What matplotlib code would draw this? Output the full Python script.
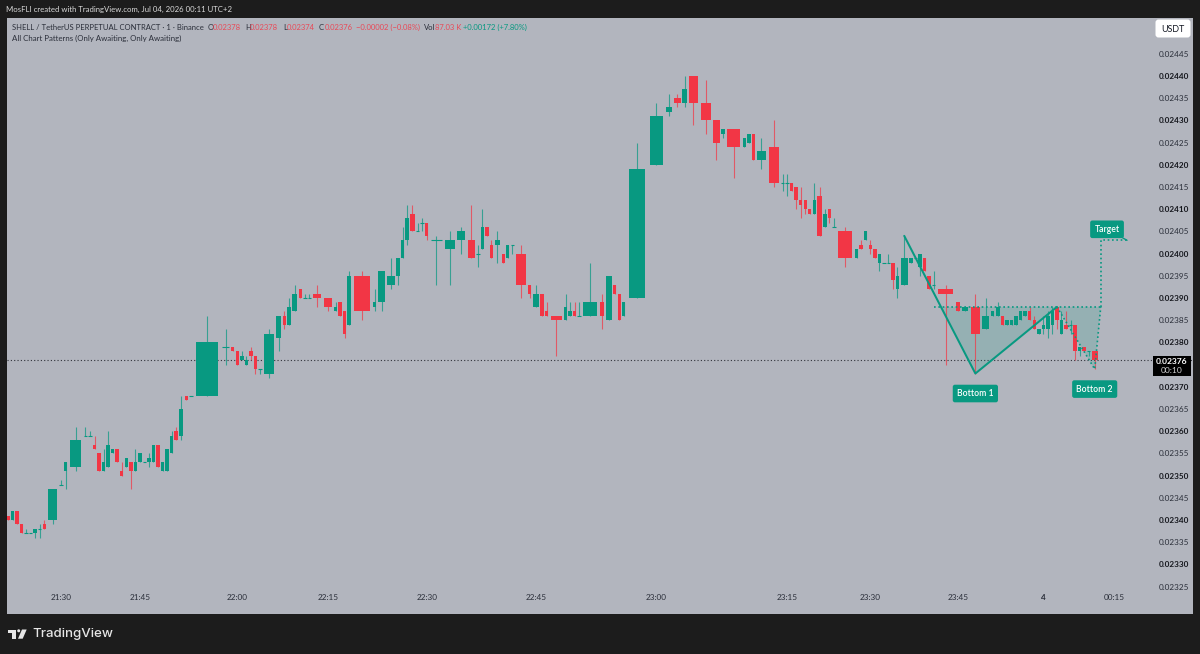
#!/usr/bin/env python3
"""
SHELL/USDT 1 minute volume candles with a double bottom pattern.
Prices are kept in units of 0.00001.
"""

import numpy as np
import matplotlib
matplotlib.use("Agg")
import matplotlib.pyplot as plt
from matplotlib.patches import Circle, FancyBboxPatch, Polygon, Rectangle

UP = "#089981"
DOWN = "#F23645"
PANEL = "#B2B5BE"
FRAME = "#1C1C1C"
INK = "#2A2E39"

opens = [
    2341, 2340, 2342, 2339, 2337, 2337, 2337, 2338, 2339, 2340,
    2348, 2351, 2352, 2359, 2359, 2357, 2355, 2351, 2352, 2355,
    2356, 2351, 2352, 2353, 2351, 2353, 2353, 2353, 2353, 2357,
    2351, 2351, 2355, 2360, 2359, 2368, 2368, 2368, 2379, 2379,
    2378, 2376, 2375, 2378, 2377, 2374, 2373, 2381, 2386, 2384,
    2387, 2392, 2390, 2390, 2391, 2390, 2387, 2389, 2387, 2384,
    2395, 2388, 2389, 2393, 2395, 2399, 2403, 2409, 2405, 2407,
    2407, 2403, 2401, 2403, 2403, 2400, 2401, 2406, 2402, 2402,
    2400, 2399, 2402, 2400, 2393, 2388, 2391, 2387, 2386, 2385,
    2386, 2387, 2386, 2386, 2389, 2385, 2393, 2391, 2386, 2390,
    2420, 2432, 2435, 2434, 2440, 2434, 2430, 2427, 2428, 2424,
    2425, 2427, 2421, 2424, 2416, 2416, 2416, 2415, 2412, 2412,
    2410, 2409, 2413, 2406, 2410, 2406, 2405, 2399, 2402, 2403,
    2402, 2401, 2398, 2398, 2398, 2398, 2392, 2393, 2398, 2399,
    2397, 2399, 2395, 2393, 2392, 2389, 2387, 2388, 2383, 2386,
    2386, 2386, 2384, 2384, 2384, 2385, 2386, 2387, 2385, 2382,
    2383, 2383, 2384, 2388, 2382, 2384, 2384, 2384, 2378, 2379,
    2378, 2378,
]
highs = [
    2341, 2342, 2342, 2339, 2338, 2337, 2338, 2339, 2340, 2347,
    2349, 2353, 2361, 2361, 2360, 2359, 2355, 2356, 2360, 2356,
    2356, 2353, 2354, 2353, 2356, 2355, 2353, 2355, 2357, 2357,
    2353, 2356, 2360, 2361, 2368, 2368, 2368, 2386, 2383, 2379,
    2378, 2378, 2377, 2379, 2377, 2374, 2383, 2386, 2387, 2390,
    2393, 2392, 2391, 2391, 2393, 2390, 2389, 2389, 2387, 2396,
    2396, 2392, 2396, 2399, 2399, 2406, 2411, 2411, 2407, 2408,
    2407, 2404, 2405, 2406, 2411, 2402, 2410, 2406, 2403, 2405,
    2400, 2402, 2402, 2402, 2393, 2393, 2391, 2389, 2386, 2391,
    2389, 2389, 2389, 2398, 2391, 2395, 2393, 2391, 2389, 2425,
    2434, 2436, 2436, 2440, 2440, 2439, 2430, 2428, 2428, 2426,
    2427, 2427, 2426, 2430, 2418, 2418, 2416, 2415, 2415, 2412,
    2410, 2416, 2415, 2410, 2410, 2408, 2406, 2401, 2403, 2405,
    2403, 2401, 2400, 2398, 2400, 2398, 2397, 2404, 2399, 2399,
    2400, 2399, 2395, 2396, 2393, 2389, 2388, 2391, 2390, 2387,
    2389, 2386, 2385, 2385, 2386, 2387, 2387, 2388, 2386, 2383,
    2386, 2387, 2388, 2388, 2387, 2387, 2385, 2384, 2379, 2379,
    2378, 2378,
]
lows = [
    2340, 2340, 2339, 2337, 2337, 2337, 2336, 2336, 2338, 2339,
    2348, 2347, 2351, 2359, 2359, 2356, 2351, 2351, 2352, 2355,
    2353, 2350, 2352, 2347, 2351, 2353, 2353, 2352, 2353, 2352,
    2351, 2351, 2355, 2358, 2358, 2367, 2368, 2368, 2375, 2378,
    2375, 2376, 2375, 2376, 2373, 2373, 2372, 2378, 2383, 2384,
    2387, 2390, 2390, 2390, 2388, 2387, 2387, 2386, 2381, 2384,
    2385, 2387, 2387, 2392, 2393, 2399, 2402, 2405, 2405, 2405,
    2403, 2393, 2393, 2400, 2399, 2397, 2401, 2404, 2399, 2398,
    2398, 2399, 2400, 2390, 2390, 2388, 2386, 2386, 2377, 2385,
    2386, 2386, 2386, 2386, 2383, 2385, 2391, 2385, 2386, 2390,
    2420, 2431, 2433, 2433, 2429, 2427, 2421, 2426, 2417, 2424,
    2425, 2421, 2419, 2415, 2414, 2413, 2414, 2410, 2408, 2409,
    2409, 2409, 2404, 2406, 2407, 2406, 2397, 2399, 2401, 2403,
    2400, 2399, 2396, 2398, 2398, 2392, 2390, 2393, 2398, 2399,
    2395, 2396, 2392, 2392, 2375, 2387, 2387, 2373, 2383, 2386,
    2386, 2384, 2384, 2384, 2384, 2385, 2386, 2385, 2383, 2382,
    2382, 2381, 2382, 2383, 2382, 2383, 2382, 2376, 2377, 2378,
    2377, 2374,
]
closes = [
    2340, 2342, 2339, 2337, 2337, 2337, 2338, 2338, 2338, 2347,
    2348, 2353, 2358, 2359, 2359, 2356, 2351, 2353, 2357, 2356,
    2353, 2350, 2354, 2351, 2353, 2355, 2353, 2354, 2357, 2352,
    2353, 2356, 2359, 2358, 2365, 2367, 2368, 2380, 2379, 2378,
    2375, 2377, 2376, 2377, 2374, 2374, 2382, 2386, 2384, 2388,
    2391, 2390, 2390, 2390, 2390, 2388, 2388, 2386, 2382, 2395,
    2387, 2389, 2396, 2395, 2399, 2403, 2408, 2405, 2405, 2407,
    2404, 2403, 2403, 2405, 2399, 2400, 2406, 2404, 2399, 2403,
    2398, 2402, 2402, 2393, 2391, 2391, 2386, 2386, 2385, 2388,
    2387, 2386, 2386, 2389, 2386, 2395, 2391, 2385, 2389, 2419,
    2431, 2433, 2434, 2437, 2434, 2430, 2425, 2428, 2424, 2426,
    2427, 2421, 2423, 2416, 2416, 2416, 2414, 2412, 2411, 2410,
    2409, 2412, 2404, 2409, 2408, 2406, 2399, 2401, 2401, 2405,
    2401, 2399, 2400, 2398, 2398, 2394, 2395, 2399, 2399, 2399,
    2400, 2396, 2392, 2393, 2391, 2387, 2388, 2382, 2386, 2387,
    2388, 2384, 2385, 2385, 2386, 2387, 2387, 2385, 2383, 2383,
    2384, 2386, 2387, 2385, 2385, 2383, 2384, 2378, 2379, 2378,
    2378, 2376,
]
volumes = [
    1, 1, 1, 1, 1, 1, 1, 1, 1, 2.7,
    1, 1, 3.4, 1, 1, 1, 1, 1, 1, 1,
    1, 1, 1, 1, 1, 1, 1, 1, 1, 1,
    1, 1, 1, 1, 1.25, 1, 1, 6.15, 2.1, 1,
    1, 1, 1, 1, 1, 1, 2.85, 1.55, 1, 1,
    1.5, 1, 1, 1, 2.4, 2.4, 1, 1, 1, 1,
    4.6, 1, 2.1, 2.1, 1, 1, 1, 1.3, 1, 1,
    1, 3.3, 2.7, 2.3, 2, 1, 1, 1, 1, 1.6,
    1, 1, 1, 2.85, 1, 1.7, 1, 1, 3.2, 1,
    1, 1, 1, 3.85, 1.35, 1.65, 1, 1, 1, 4.8,
    3.8, 1.8, 1.85, 1.4, 2.45, 2.9, 1.9, 1, 3.7, 1,
    1, 1, 2.55, 2.9, 1, 1, 1, 1, 1, 1,
    1, 1, 1.35, 1, 1, 1, 4, 1, 1, 1,
    1, 1, 1, 1, 1, 1, 1, 2, 1, 1,
    1, 1, 1, 1, 4.4, 1, 2, 2.6, 2, 1,
    1.2, 1, 1, 1, 1, 1, 1, 1, 1, 1,
    1, 1, 1, 1, 1, 1, 1, 1, 1, 1,
    1, 1.67,
]

time_labels = ["21:30", "21:45", "22:00", "22:15", "22:30", "22:45",
               "23:00", "23:15", "23:30", "23:45", "4", "00:15"]
time_candles = [10, 25, 40, 55, 70, 85, 100, 115, 130, 145, 160, 175]

price_ticks = [2325, 2330, 2335, 2340, 2345, 2350, 2355, 2360, 2365, 2370,
               2380, 2385, 2390, 2395, 2400, 2405, 2410, 2415, 2420, 2425,
               2430, 2435, 2440, 2445]
last_price = 2376

# pattern pivots, given as candle number and price
leg_candles = [137, 147, 163]
leg_prices = [2404, 2373, 2388]
second_candles = [163, 171, 172]
second_prices = [2388, 2374, 2388]
neck_candles = [143, 172]
neck_price = 2388
target_candles = [172, 172, 177.8]
target_prices = [2388, 2403, 2403]

opens = np.array(opens, dtype=float)
highs = np.array(highs, dtype=float)
lows = np.array(lows, dtype=float)
closes = np.array(closes, dtype=float)
volumes = np.array(volumes)

# candle width follows volume, so x comes from the running total
edges = np.concatenate([[0], np.cumsum(volumes)])
centers = edges[:-1] + volumes / 2
extra = centers[-1] + volumes[-1] / 2 + 0.5 + np.arange(10)
slots = np.concatenate([centers, extra])


def candle_x(n):
    return np.interp(n, np.arange(len(slots)), slots)


def price(v):
    return np.asarray(v, dtype=float) * 1e-5


plt.rcParams["font.family"] = ["Lato", "DejaVu Sans"]
fig = plt.figure(figsize=(12, 6.54), dpi=100, facecolor=FRAME)

L, R, T, B = 7, 1193, 18, 614
ax = fig.add_axes([L / 1200, 1 - B / 654, (R - L) / 1200, (B - T) / 654], facecolor=PANEL)

# horizontal scale: first candle at pixel 8, last at pixel 1095
px_per_x = (1094.7 - 8) / (centers[-1] - centers[0])
ax.set_xlim(centers[0] - (8 - L) / px_per_x, centers[0] + (R - 8) / px_per_x)
ax.set_ylim(price(2440 - (B - 76) * 0.2252), price(2440 + (76 - T) * 0.2252))

up = closes >= opens
colors = np.where(up, UP, DOWN)
flat = opens == closes

ax.vlines(centers, price(lows), price(highs), colors=colors, lw=0.8, alpha=0.72, zorder=2)
ax.bar(centers[~flat], price(np.abs(closes - opens))[~flat], width=volumes[~flat] * 0.76,
       bottom=price(np.minimum(opens, closes))[~flat], color=colors[~flat], lw=0, zorder=3)
ax.hlines(price(opens[flat]), centers[flat] - volumes[flat] * 0.38, centers[flat] + volumes[flat] * 0.38,
          colors=colors[flat], lw=0.8, zorder=3)

# last price line
ax.axhline(price(last_price), color="#30323a", lw=0.8, ls=(0, (1, 2)), zorder=1)

# double bottom pattern
leg_x = candle_x(np.array(leg_candles))
second_x = candle_x(np.array(second_candles))
neck_x = candle_x(np.array(neck_candles))
target_x = candle_x(np.array(target_candles))
first_cross = np.interp(neck_price, [leg_prices[1], leg_prices[0]], [leg_x[1], leg_x[0]])

ax.add_patch(Polygon(np.column_stack([[first_cross, leg_x[1], leg_x[2]],
                                      price([neck_price, leg_prices[1], leg_prices[2]])]),
                     closed=True, facecolor=UP, alpha=0.17, lw=0, zorder=1.5))
ax.add_patch(Polygon(np.column_stack([second_x, price(second_prices)]),
                     closed=True, facecolor=UP, alpha=0.17, lw=0, zorder=1.5))
ax.plot(leg_x, price(leg_prices), color=UP, lw=1.45, zorder=5, solid_capstyle="round")
ax.plot(neck_x, price([neck_price, neck_price]), color=UP, lw=1.2, ls=(0, (1, 1.6)), zorder=5)
ax.plot(second_x, price(second_prices), color=UP, lw=1.2, ls=(0, (1, 1.6)), zorder=5)
ax.plot(target_x, price(target_prices), color=UP, lw=1.2, ls=(0, (1, 1.6)), zorder=5)

box = dict(boxstyle="round,pad=0.5,rounding_size=0.25", fc=UP, ec="none")
ax.annotate("Bottom 1", (leg_x[1], price(leg_prices[1])), xytext=(0, -20), textcoords="offset pixels",
            ha="center", va="center", color="white", fontsize=6.2, fontweight="semibold", bbox=box, zorder=6)
ax.annotate("Bottom 2", (second_x[1], price(second_prices[1])), xytext=(0, -20), textcoords="offset pixels",
            ha="center", va="center", color="white", fontsize=6.2, fontweight="semibold", bbox=box, zorder=6)
ax.annotate("Target", (target_x[2], price(target_prices[2])), xytext=(-20, 11), textcoords="offset pixels",
            ha="center", va="center", color="white", fontsize=6.2, fontweight="semibold",
            bbox=dict(boxstyle="round,pad=0.5,rounding_size=0.25", fc=UP, ec="none"),
            arrowprops=dict(arrowstyle="-", color=UP, lw=1.0, shrinkA=0, shrinkB=0), zorder=6)

# scales sit inside the panel
ax.set_xticks(candle_x(np.array(time_candles)))
ax.set_xticklabels(time_labels)
ax.set_yticks(price(price_ticks))
ax.set_yticklabels([f"{p * 1e-5:.5f}" for p in price_ticks])
ax.yaxis.tick_right()
ax.tick_params(axis="y", length=0, pad=-25, labelsize=5.9, labelcolor=INK)
ax.tick_params(axis="x", length=0, pad=-14.5, labelsize=5.9, labelcolor=INK)
for lab, p in zip(ax.get_yticklabels(), price_ticks):
    lab.set_ha("left")
    if p % 10 == 0:
        lab.set_fontweight("bold")
        lab.set_color("#15171d")
ax.get_xticklabels()[time_labels.index("4")].set_fontweight("bold")
for s in ax.spines.values():
    s.set_visible(False)

# header, price tags and logo drawn in pixel space
top = fig.add_axes([0, 0, 1, 1], facecolor="none")
top.set_xlim(0, 1200)
top.set_ylim(654, 0)
top.axis("off")

top.text(6, 9.5, "MosFLI created with TradingView.com, Jul 04, 2026 00:11 UTC+2",
         color="#DADADA", fontsize=5.6, va="center")

head = 27
top.text(12, head, "SHELL / TetherUS PERPETUAL CONTRACT · 1 · Binance", color=INK, fontsize=5.5, va="center")
for x, s, c, a in [(208, "O", INK, 1), (213, "0.02378", DOWN, 0.85), (245, "H", INK, 1), (250, "0.02378", DOWN, 0.85),
                   (283, "L", INK, 1), (287, "0.02374", DOWN, 0.85), (319, "C", INK, 1), (325, "0.02376", DOWN, 0.85),
                   (356, "−0.00002 (−0.08%)", DOWN, 0.85), (424, "Vol", INK, 1), (435, "87.03 K", DOWN, 0.85),
                   (463, "+0.00172 (+7.80%)", UP, 1)]:
    top.text(x, head, s, color=c, alpha=a, fontsize=5.5, va="center")
top.text(12, 38.5, "All Chart Patterns (Only Awaiting, Only Awaiting)", color=INK, fontsize=5.7, va="center")

top.add_patch(FancyBboxPatch((1157, 21), 32, 15, boxstyle="round,pad=1.5,rounding_size=3", fc="white", ec="none"))
top.text(1173, 29, "USDT", color="#131722", fontsize=6.4, ha="center", va="center")

top.add_patch(Rectangle((1153, 355.5), 38, 20.5, fc="black", ec="none"))
top.text(1172, 361, "0.02376", color="white", fontsize=6.1, fontweight="bold", ha="center", va="center")
top.text(1172, 370.5, "00:10", color="#D0D0D0", fontsize=6.1, ha="center", va="center")

logo = "#E6E6E6"
top.add_patch(Polygon([(7.5, 629.5), (16, 629.5), (16, 638.7), (12, 638.7), (12, 632.5), (7.5, 632.5)],
                      closed=True, fc=logo, ec="none"))
top.add_patch(Circle((18.7, 630.8), 1.5, fc=logo, ec="none"))
top.add_patch(Polygon([(22, 629.5), (26.7, 629.5), (22.7, 638.7), (18, 638.7)], closed=True, fc=logo, ec="none"))
top.text(32, 634.5, "TradingView", color=logo, fontsize=9.6, family="Inter", fontweight="medium", va="center")

plt.savefig("out.png", dpi=100, facecolor=FRAME)
plt.close()
